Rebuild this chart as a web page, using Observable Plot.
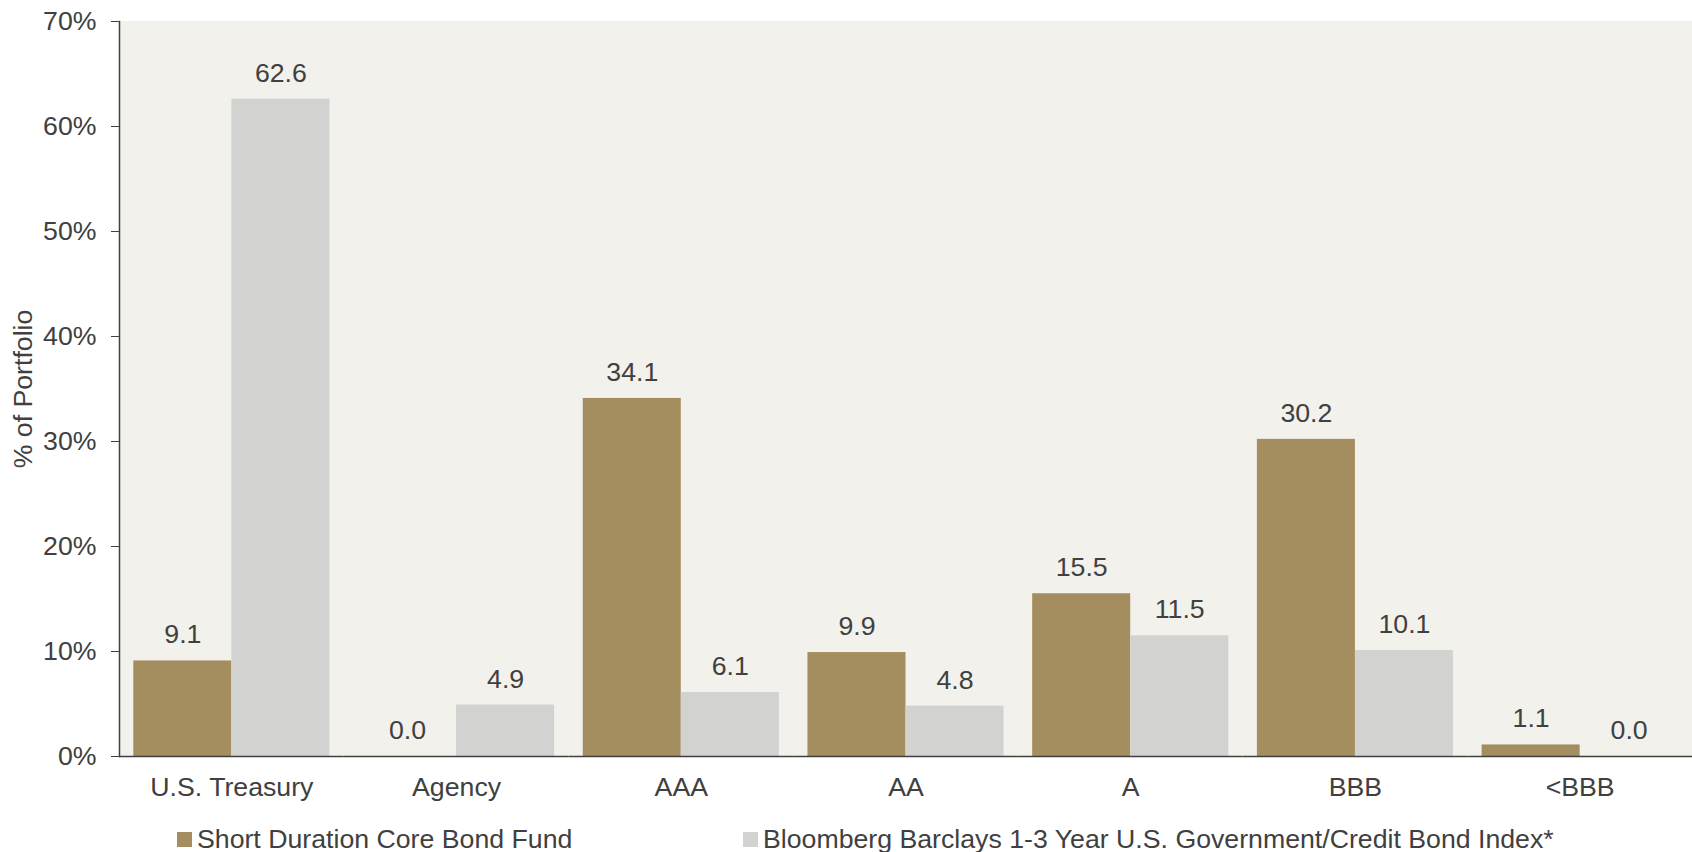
<!DOCTYPE html>
<html>
<head>
<meta charset="utf-8">
<script src="https://cdn.jsdelivr.net/npm/d3@7"></script>
<script src="https://cdn.jsdelivr.net/npm/@observablehq/plot@0.6"></script>
<style>
  html, body { margin: 0; padding: 0; background: #ffffff; }
  #chart { width: 1692px; font-family: "Liberation Sans", Arial, sans-serif; color: #404040; }
  #legend { display: flex; height: 30px; padding-left: 177px; font-size: 26.7px; line-height: 30px; white-space: nowrap; }
  #legend .item { display: flex; align-items: center; }
  #legend .item:first-child { width: 566px; }
  #legend .sw { width: 15px; height: 15px; margin-right: 5px; flex-shrink: 0; }
</style>
</head>
<body>
<div id="chart"></div>
<script>
const categories = ["U.S. Treasury", "Agency", "AAA", "AA", "A", "BBB", "<BBB"];
const seriesNames = ["Short Duration Core Bond Fund", "Bloomberg Barclays 1-3 Year U.S. Government/Credit Bond Index*"];
const fundValues = [9.1, 0.0, 34.1, 9.9, 15.5, 30.2, 1.1];
const indexValues = [62.6, 4.9, 6.1, 4.8, 11.5, 10.1, 0.0];
const seriesColors = ["#a48e5f", "#d2d2d1"];
const yTicks = [0, 10, 20, 30, 40, 50, 60, 70];

const rows = categories.flatMap((c, i) => [
  {category: c, series: seriesNames[0], value: fundValues[i]},
  {category: c, series: seriesNames[1], value: indexValues[i]}
]);

const ink = "#404040";
const bg = "#f2f1ec";

const plot = Plot.plot({
  width: 1692,
  height: 824,
  marginLeft: 119,
  marginRight: 0,
  marginTop: 21,
  marginBottom: 68,
  style: {fontFamily: "'Liberation Sans', Arial, sans-serif", fontSize: "26.7px", color: ink, background: "transparent", overflow: "visible"},
  fx: {domain: categories, paddingInner: 0, paddingOuter: 0, round: false, label: null, tickSize: 0, tickPadding: 21},
  x: {domain: seriesNames, axis: null, paddingInner: 0, paddingOuter: 0.146, round: false},
  y: {domain: [0, 70], ticks: yTicks, tickFormat: d => d + "%", tickSize: 8, tickPadding: 15,
      label: "% of Portfolio", labelAnchor: "center", labelOffset: 106, labelArrow: "none"},
  color: {domain: seriesNames, range: seriesColors},
  marks: [
    Plot.frame({fill: bg, stroke: bg, strokeWidth: 1}),
    Plot.barY(rows, {fx: "category", x: "series", y: "value", fill: "series"}),
    Plot.text(rows, {fx: "category", x: "series", y: "value", text: d => d.value.toFixed(1), dy: -26, fill: ink}),
    Plot.ruleY([0], {stroke: ink, strokeWidth: 1.5}),
    Plot.frame({anchor: "left", facetAnchor: "left", stroke: ink, strokeWidth: 1.5})
  ]
});

const chart = document.getElementById("chart");
chart.appendChild(plot);

const legend = d3.select(chart).append("div").attr("id", "legend");
const items = legend.selectAll(".item").data(seriesNames).join("div").attr("class", "item");
items.append("div").attr("class", "sw").style("background", (d, i) => seriesColors[i]);
items.append("span").text(d => d);
</script>
</body>
</html>
